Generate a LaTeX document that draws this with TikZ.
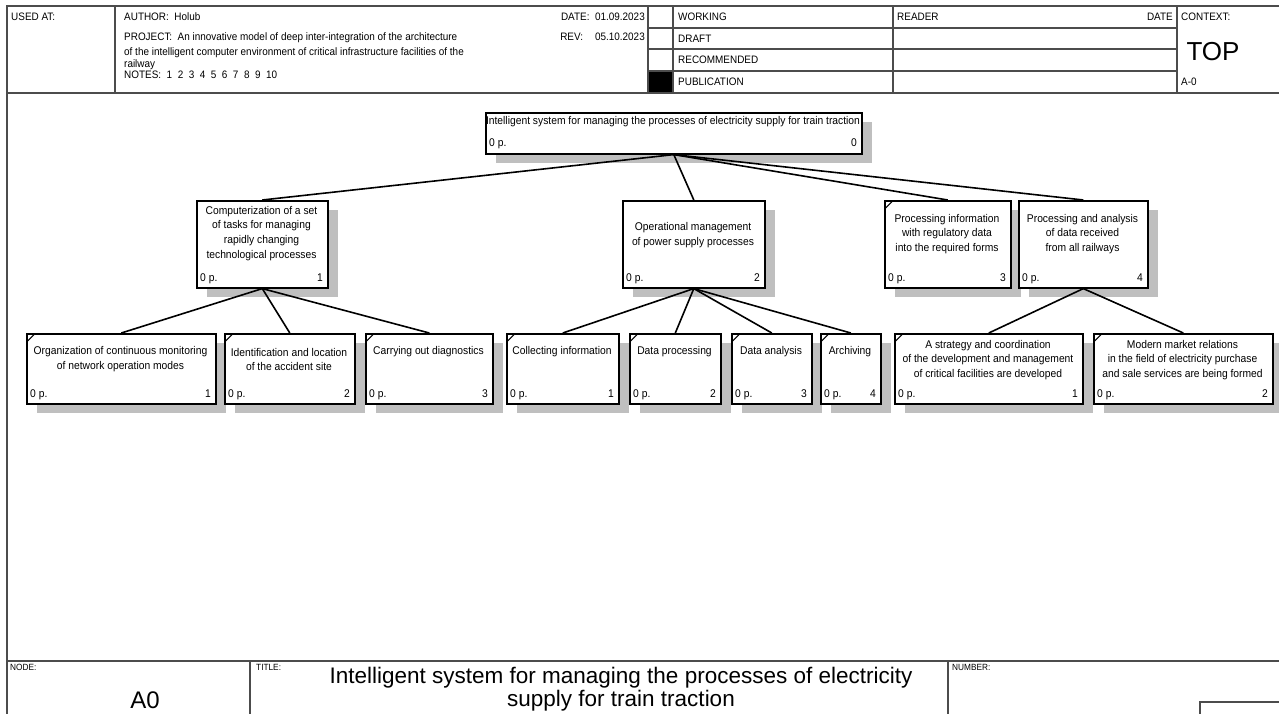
\documentclass[tikz,border=0pt]{standalone}
\usepackage{fontspec}
\setmainfont{Liberation Sans}[FakeStretch=0.92]
\newfontfamily\widefont{Liberation Sans}
\usetikzlibrary{shadows}

% one box of the node tree: style, name, left, top, right, bottom, text y, text, number
\newcommand{\treebox}[9]{%
  \node[#1, minimum width={(#5-#3)*1pt}, minimum height={(#6-#4)*1pt}] (#2) at (#3,#4) {};
  \node[boxtext] (#2-t) at ({(#3+#5)/2}, #7) {#8};
  \node[boxnum, anchor=base west] (#2-p) at (#3+4, #6-6) {0 p.};
  \node[boxnum, anchor=base east] (#2-n) at (#5-4, #6-6) {#9};
}

\begin{document}
\begin{tikzpicture}[x=1pt, y=-1pt,
  frameline/.style={draw=black!70, line width=1.2pt},
  cell/.style={anchor=base west, inner sep=0pt, font=\fontsize{10.8}{12}\selectfont},
  lbl/.style={anchor=base west, inner sep=0pt, font=\fontsize{9}{10}\selectfont},
  treenode/.style={draw, line width=1.6pt, fill=white, inner sep=0pt, anchor=north west,
    drop shadow={shadow xshift=10pt, shadow yshift=-9pt, fill=black!25, opacity=1}},
  leaf/.style={treenode, path picture={\draw[line width=1pt]
    ([yshift=-8pt]path picture bounding box.north west) -- ([xshift=8pt]path picture bounding box.north west);}},
  boxtext/.style={align=center, inner sep=0pt, font=\fontsize{11.2}{14.8}\selectfont},
  boxnum/.style={inner sep=0pt, font=\fontsize{11.2}{12}\selectfont},
  link/.style={line width=1.6pt}]

\useasboundingbox (0,0) rectangle (1279,714);

% form frame
\fill (648,71) rectangle (673,93);
\draw[frameline] (1279,6) -- (7,6) -- (7,714);
\draw[frameline] (7,93) -- (1279,93);
\foreach \x in {115,648,673,893,1177} \draw[frameline] (\x,6) -- (\x,93);
\foreach \y in {28,49,71} \draw[frameline] (648,\y) -- (1177,\y);
\draw[frameline] (7,661) -- (1279,661);
\draw[frameline] (250,661) -- (250,714);
\draw[frameline] (948,661) -- (948,714);
\draw[frameline] (1279,702) -- (1200,702) -- (1200,714);

% header
\node[cell] (usedat) at (11,21) {USED AT:};
\node[cell] (author) at (124,21) {AUTHOR:\ \ Holub};
\node[cell, anchor=base east] (date) at (645,21) {DATE:\ \ 01.09.2023};
\node[cell, anchor=base east] (rev) at (645,41) {REV:\hspace{12pt}05.10.2023};
\node[cell] (project) at (124,41) {PROJECT:\ \ An innovative model of deep inter-integration of the architecture};
\node[cell] (project2) at (124,55.5) {of the intelligent computer environment of critical infrastructure facilities of the};
\node[cell] (project3) at (124,68) {railway};
\node[cell] (notes) at (124,79) {NOTES:\ \ 1\ \ 2\ \ 3\ \ 4\ \ 5\ \ 6\ \ 7\ \ 8\ \ 9\ \ 10};
\node[cell] (working) at (678,21) {WORKING};
\node[cell] (draft) at (678,42.5) {DRAFT};
\node[cell] (recommended) at (678,64) {RECOMMENDED};
\node[cell] (publication) at (678,86) {PUBLICATION};
\node[cell] (reader) at (897,21) {READER};
\node[cell, anchor=base east] (rdate) at (1173,21) {DATE};
\node[cell] (context) at (1181,21) {CONTEXT:};
\node[inner sep=0pt, font=\widefont\fontsize{26}{28}\selectfont] (top) at (1213,52) {TOP};
\node[cell] (aminus) at (1181,86) {A-0};

% footer
\node[lbl] (nodelbl) at (10,670) {NODE:};
\node[inner sep=0pt, font=\widefont\fontsize{24}{26}\selectfont] (anode) at (145,700) {A0};
\node[lbl] (titlelbl) at (256,670) {TITLE:};
\node[align=center, inner sep=0pt, font=\widefont\fontsize{22.5}{23}\selectfont] (title) at (621,689)
  {Intelligent system for managing the processes of electricity\\ supply for train traction};
\node[lbl] (numberlbl) at (952,670) {NUMBER:};

% node tree
\treebox{treenode}{a0}{485}{112}{861}{153}{122}{Intelligent system for managing the processes of electricity supply for train traction}{0}
\treebox{treenode}{a1}{196}{200}{327}{287}{233.5}{Computerization of a set\\ of tasks for managing\\ rapidly changing\\ technological processes}{1}
\treebox{treenode}{a2}{622}{200}{764}{287}{235.5}{Operational management\\ of power supply processes}{2}
\treebox{leaf}{a3}{884}{200}{1010}{287}{234}{Processing information\\ with regulatory data\\ into the required forms}{3}
\treebox{treenode}{a4}{1018}{200}{1147}{287}{234}{Processing and analysis\\ of data received\\ from all railways}{4}

\treebox{leaf}{a11}{26}{333}{215}{403}{359.5}{Organization of continuous monitoring\\ of network operation modes}{1}
\treebox{leaf}{a12}{224}{333}{354}{403}{359.5}{Identification and location\\ of the accident site}{2}
\treebox{leaf}{a13}{365}{333}{492}{403}{352}{Carrying out diagnostics}{3}
\treebox{leaf}{a21}{506}{333}{618}{403}{352}{Collecting information}{1}
\treebox{leaf}{a22}{629}{333}{720}{403}{352}{Data processing}{2}
\treebox{leaf}{a23}{731}{333}{811}{403}{352}{Data analysis}{3}
\treebox{leaf}{a24}{820}{333}{880}{403}{352}{Archiving}{4}
\treebox{leaf}{a41}{894}{333}{1082}{403}{360}{A strategy and coordination\\ of the development and management\\ of critical facilities are developed}{1}
\treebox{leaf}{a42}{1093}{333}{1272}{403}{360}{Modern market relations\\ in the field of electricity purchase\\ and sale services are being formed}{2}

\foreach \c in {a1,a2,a3,a4} \draw[link] (a0.south) -- (\c.north);
\foreach \c in {a11,a12,a13} \draw[link] (a1.south) -- (\c.north);
\foreach \c in {a21,a22,a23,a24} \draw[link] (a2.south) -- (\c.north);
\foreach \c in {a41,a42} \draw[link] (a4.south) -- (\c.north);
\end{tikzpicture}
\end{document}
